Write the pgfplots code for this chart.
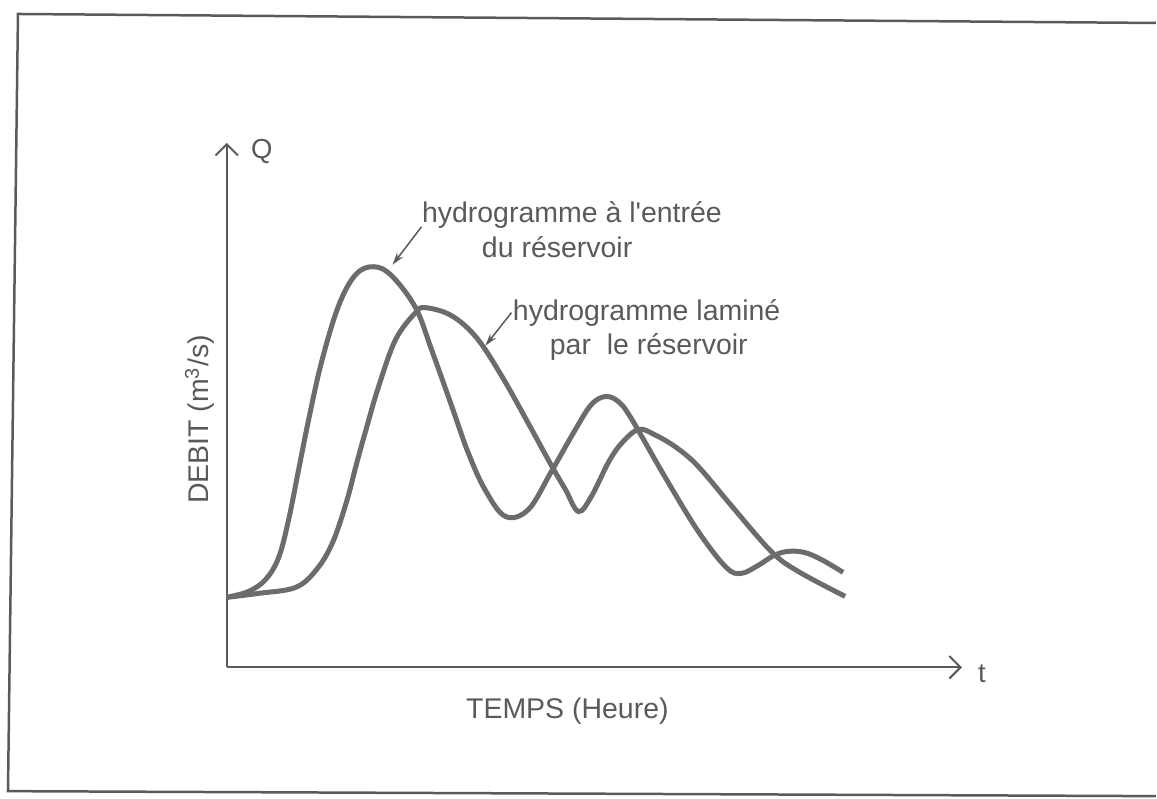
\documentclass[border=0pt]{standalone}
\usepackage{pgfplots}
\pgfplotsset{compat=1.18}
\usepackage{fontspec}
\setmainfont{Liberation Sans}[Ligatures=TeXOff]
\usetikzlibrary{arrows.meta}
\definecolor{ink}{HTML}{5A5A5A}
\definecolor{curve}{HTML}{6C6C6C}
\begin{document}
\begin{tikzpicture}
\begin{axis}[
  x=0.4pt, y=0.4pt,
  xmin=0, xmax=736, ymin=0, ymax=525,
  axis lines=left,
  axis line style={ink, line width=0.8pt, -{Straight Barb[length=4.5pt,width=9pt,line width=0.8pt]}},
  ticks=none,
  clip=false,
  font=\fontsize{11.4}{13}\selectfont,
]
% invisible canvas
\path (axis cs:-227,-131) rectangle (axis cs:930,668);
% frame
\draw[ink, line width=1pt] (axis cs:930,645) -- (axis cs:-209,654) -- (axis cs:-219,-124) -- (axis cs:930,-129);

% inflow hydrograph
\addplot[curve, line width=2pt, smooth, tension=0.6] coordinates {
(0,70) (22,76) (39,88) (52,110) (62,148) (72,198) (82,248) (95,306) (112,362) (129,393) (147,401) (165,392) (189,360) (205,318) (225,262) (242,214) (259,177) (279,151) (302,158) (325,196) (349,238) (365,263) (379,271) (392,266) (405,249) (439,190) (472,136) (500,100) (515,94) (532,102) (548,112) (562,116) (578,115) (595,108) (617,95)
};
% routed hydrograph
\addplot[curve, line width=2pt, smooth, tension=0.6] coordinates {
(0,70) (32,74) (69,80) (90,98) (106,125) (120,166) (130,204) (140,240) (152,281) (169,328) (189,355) (199,360) (225,352) (250,330) (275,292) (302,244) (325,202) (339,178) (352,156) (365,171) (382,205) (395,224) (412,238) (428,233) (450,220) (472,201) (505,162) (545,116) (572,96) (619,71)
};

% labels
\node[ink, font=\fontsize{11}{12}\selectfont] at (axis cs:35,516) {Q};
\node[ink, font=\fontsize{11}{12}\selectfont] at (axis cs:756,-6) {t};
\node[ink] at (axis cs:341,-44) {TEMPS (Heure)};
\node[ink, rotate=90] at (axis cs:-27,248) {DEBIT (m\textsuperscript{3}/s)};

\node[ink, anchor=west, inner sep=0pt] at (axis cs:195,453) {hydrogramme à l'entrée};
\node[ink, anchor=west, inner sep=0pt] at (axis cs:255,421) {du réservoir};
\node[ink, anchor=west, inner sep=0pt] at (axis cs:286,355) {hydrogramme laminé};
\node[ink, anchor=west, inner sep=0pt] at (axis cs:323,321) {par\ \ le réservoir};

\draw[ink, line width=0.6pt, -{Stealth[length=5pt,width=3pt]}] (axis cs:195,441) -- (axis cs:166,403);
\draw[ink, line width=0.6pt, -{Stealth[length=5pt,width=3pt]}] (axis cs:285,355) -- (axis cs:259,322);
\end{axis}
\end{tikzpicture}
\end{document}
